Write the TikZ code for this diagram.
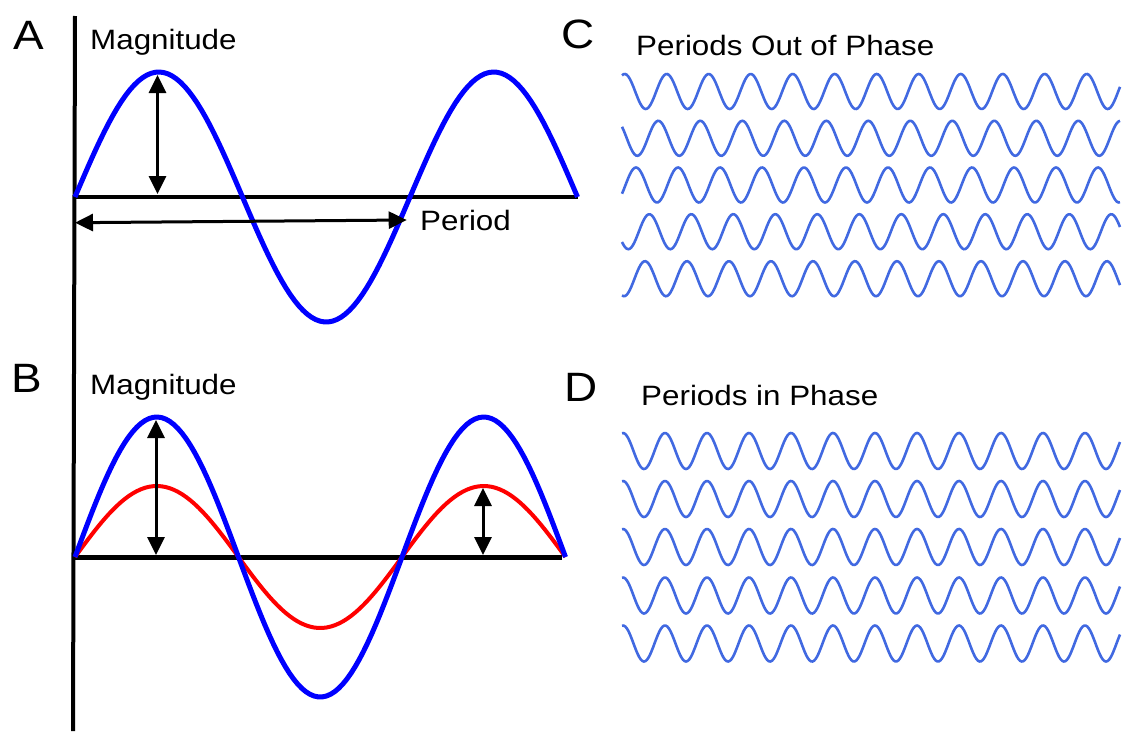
\documentclass[tikz,border=0pt]{standalone}
\usepackage{fontspec}
\setmainfont{Liberation Sans}[FakeStretch=1.12]
\usetikzlibrary{arrows.meta}
\definecolor{sineblue}{RGB}{0, 0, 255}
\definecolor{sinered}{RGB}{255, 0, 0}
\definecolor{phaseblue}{RGB}{65, 105, 225}

\begin{document}
\begin{tikzpicture}[
    x=1pt, y=-1pt,
    font=\fontsize{28}{34}\selectfont,
    txt/.style={anchor=base west, inner sep=0pt},
    panel/.style={txt, font=\fontsize{41}{48}\selectfont},
    axis/.style={line width=4pt},
    dim/.style={{Triangle[length=18pt,width=17pt]}-{Triangle[length=18pt,width=17pt]}, line width=3pt},
    wave/.style={phaseblue, line width=2.6pt, domain=622:1120, samples=320}
]
    \useasboundingbox (0,0) rectangle (1123,731);

    % Coordinates
    \coordinate (yaxis_top) at (75, 16);
    \coordinate (yaxis_bot) at (73, 731);
    \coordinate (xA_left)   at (75, 197);
    \coordinate (xA_right)  at (578, 197);
    \coordinate (xB_left)   at (75, 557);
    \coordinate (xB_right)  at (562, 557);

    \coordinate (magA_top) at (157.5, 75);
    \coordinate (magA_bot) at (157.5, 194);
    \coordinate (per_left)  at (75, 222.7);
    \coordinate (per_right) at (406.7, 220);

    \coordinate (magB1_top) at (156, 420);
    \coordinate (magB1_bot) at (156, 555);
    \coordinate (magB2_top) at (483, 488);
    \coordinate (magB2_bot) at (483, 555);

    % Axes
    \draw[axis] (yaxis_top) -- (yaxis_bot);
    \draw[axis] (xA_left) -- (xA_right);
    \draw[axis, line width=5pt] (xB_left) -- (xB_right);

    % Panel A sine
    \draw[sineblue, line width=5pt, domain=0:540, samples=120]
        plot ({75+\x/360*335}, {197-125*sin(\x)});

    % Panel B sines
    \draw[sinered, line width=4pt, domain=0:540, samples=120]
        plot ({75+\x/360*327}, {557-71*sin(\x)});
    \draw[sineblue, line width=5pt, domain=0:540, samples=120]
        plot ({75+\x/360*327}, {557-140*sin(\x)});

    % Magnitude and period arrows
    \draw[dim] (magA_top) -- (magA_bot);
    \draw[dim] (per_left) -- (per_right);
    \draw[dim] (magB1_top) -- (magB1_bot);
    \draw[dim] (magB2_top) -- (magB2_bot);

    % Panel C: out of phase
    \draw[wave] plot (\x, {91.5-17.5*cos((\x-666.7)/42*360)});
    \draw[wave] plot (\x, {138.3-17.5*cos((\x-658.3)/42*360)});
    \draw[wave] plot (\x, {185-17.5*cos((\x-636)/42*360)});
    \draw[wave] plot (\x, {231.7-17.5*cos((\x-649.3)/42*360)});
    \draw[wave] plot (\x, {278.7-17.5*cos((\x-645)/42*360)});

    % Panel D: in phase
    \draw[wave] plot (\x, {451-18*cos((\x-665)/42*360)});
    \draw[wave] plot (\x, {499-18*cos((\x-665)/42*360)});
    \draw[wave] plot (\x, {547-18*cos((\x-665)/42*360)});
    \draw[wave] plot (\x, {595.5-18*cos((\x-665)/42*360)});
    \draw[wave] plot (\x, {643.5-18*cos((\x-665)/42*360)});

    % Labels
    \node[panel] (lblA) at (13, 49) {A};
    \node[panel] (lblB) at (11, 392) {B};
    \node[panel] (lblC) at (561, 48) {C};
    \node[panel] (lblD) at (564, 401.5) {D};
    \node[txt] (magA) at (90, 49.3) {Magnitude};
    \node[txt] (magB) at (90, 394.3) {Magnitude};
    \node[txt] (period) at (420, 230) {Period};
    \node[txt] (outphase) at (636, 55) {Periods Out of Phase};
    \node[txt] (inphase) at (641, 405) {Periods in Phase};

\end{tikzpicture}
\end{document}
